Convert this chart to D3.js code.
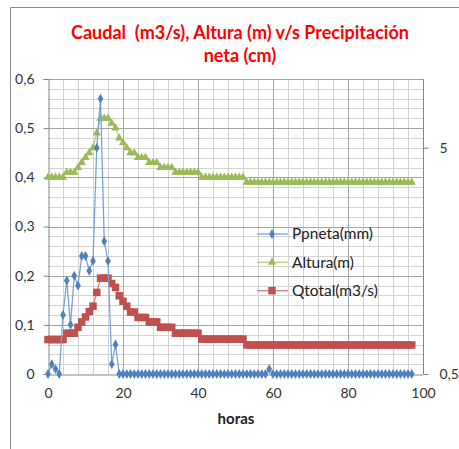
<!DOCTYPE html>
<html><head><meta charset="utf-8">
<script src="https://cdn.jsdelivr.net/npm/d3@7"></script>
<style>
body{margin:0;background:#fff}
svg{display:block}
text{font-family:Lato,'Open Sans',sans-serif;white-space:pre}
</style></head>
<body><svg id="c" width="459" height="449"></svg>
<script>
// ---- data ----
const hours = [0,1,2,3,4,5,6,7,8,9,10,11,12,13,14,15,16,17,18,19,20,21,22,23,24,25,26,27,28,29,
30,31,32,33,34,35,36,37,38,39,40,41,42,43,44,45,46,47,48,49,50,51,52,53,54,55,56,57,58,59,
60,61,62,63,64,65,66,67,68,69,70,71,72,73,74,75,76,77,78,79,80,81,82,83,84,85,86,87,88,89,
90,91,92,93,94,95,96,97];
const ppneta = [0,0.02,0.01,0,0.12,0.19,0.10,0.20,0.18,0.24,0.24,0.21,0.23,0.46,0.56,0.27,0.23,0.02,0.06,
0,0,0,0,0,0,0,0,0,0, 0,0,0,0,0,0,0,0,0,0, 0,0,0,0,0,0,0,0,0,0, 0,0,0,0,0,0,0,0,0,0,
0.01,
0,0,0,0,0,0,0,0,0,0, 0,0,0,0,0,0,0,0,0,0, 0,0,0,0,0,0,0,0,0,0, 0,0,0,0,0,0,0,0];
const altura = [0.40,0.40,0.40,0.40,0.40,0.41,0.41,0.41,0.42,0.43,0.44,0.45,0.46,0.49,0.52,0.52,0.52,
0.51,0.50,0.48,0.47,0.46,0.45,0.45,0.44,0.44,0.44,0.43,0.43,0.43,0.42,0.42,0.42,0.42,
0.41,0.41,0.41,0.41,0.41,0.41,0.41,
0.40,0.40,0.40,0.40,0.40,0.40,0.40,0.40,0.40,0.40,0.40,0.40,
0.39,0.39,0.39,0.39,0.39,0.39,0.39,0.39,0.39,0.39, 0.39,0.39,0.39,0.39,0.39,0.39,0.39,0.39,0.39,0.39,
0.39,0.39,0.39,0.39,0.39,0.39,0.39,0.39,0.39,0.39, 0.39,0.39,0.39,0.39,0.39,0.39,0.39,0.39,0.39,0.39,
0.39,0.39,0.39,0.39,0.39];
const qtotal = [0.070,0.070,0.070,0.070,0.070,0.083,0.083,0.083,0.095,0.106,0.116,0.127,0.138,0.166,
0.195,0.195,0.195,0.184,0.176,0.159,0.148,0.138,0.126,0.126,0.115,0.115,0.115,0.106,0.106,0.106,
0.095,0.095,0.095,0.095,0.083,0.083,0.083,0.083,0.083,0.083,0.083,
0.071,0.071,0.071,0.071,0.071,0.071,0.071,0.071,0.071,0.071,0.071,0.071,
0.059,0.059,0.059,0.059,0.059,0.059,0.059,0.059,0.059,0.059, 0.059,0.059,0.059,0.059,0.059,0.059,0.059,0.059,0.059,0.059,
0.059,0.059,0.059,0.059,0.059,0.059,0.059,0.059,0.059,0.059, 0.059,0.059,0.059,0.059,0.059,0.059,0.059,0.059,0.059,0.059,
0.059,0.059,0.059,0.059,0.059];
const seriesNames = ["Ppneta(mm)","Altura(m)","Qtotal(m3/s)"];
const xTickVals = [0,20,40,60,80,100];
const yTickVals = [0,0.1,0.2,0.3,0.4,0.5,0.6];
const rightTickVals = [0.5,5];
const titleLines = ["Caudal  (m3/s), Altura (m) v/s Precipitación","neta (cm)"];
const xTitle = "horas";

// ---- layout ----
const svg = d3.select("#c");
const L=48,R=423,T=79,B=374;
const x = d3.scaleLinear().domain([0,100]).range([L,R]);
const y = d3.scaleLinear().domain([0,0.6]).range([B,T]);
const yR = d3.scaleLog().domain([0.5,5]).range([B,147.7]);
const fmt = v => String(v).replace(".",",");

// outer border
svg.append("path").attr("d","M10.5,449 V7.5 H459").attr("fill","none").attr("stroke","#8c8c8c").attr("stroke-width",1);

// grid
const g = svg.append("g");
const minorY = d3.range(0,0.6001,0.02).filter(v=>Math.abs(Math.round(v*10)-v*10)>1e-6);
const minorX = d3.range(0,100.001,4).filter(v=>v%20!==0);
g.selectAll(".my").data(minorY).join("line")
  .attr("x1",L).attr("x2",R).attr("y1",d=>Math.round(y(d))+0.5).attr("y2",d=>Math.round(y(d))+0.5)
  .attr("stroke","#d4d4d4");
g.selectAll(".mx").data(minorX).join("line")
  .attr("y1",T).attr("y2",B).attr("x1",d=>Math.round(x(d))+0.5).attr("x2",d=>Math.round(x(d))+0.5)
  .attr("stroke","#d4d4d4");
g.selectAll(".Mx").data(xTickVals.filter(v=>v>0&&v<100)).join("line")
  .attr("y1",T).attr("y2",B).attr("x1",d=>Math.round(x(d))+0.5).attr("x2",d=>Math.round(x(d))+0.5)
  .attr("stroke","#a6a6a6");
g.selectAll(".My").data(yTickVals.filter(v=>v>0)).join("line")
  .attr("x1",L).attr("x2",R).attr("y1",d=>Math.round(y(d))+0.5).attr("y2",d=>Math.round(y(d))+0.5)
  .attr("stroke","#a6a6a6");

// axes
const axL = svg.append("g").attr("transform",`translate(${L+0.5},0)`)
  .call(d3.axisLeft(y).tickValues(yTickVals).tickSize(5).tickPadding(9).tickFormat(fmt));
const axB = svg.append("g").attr("transform",`translate(0,${Math.round(B)+0.5})`)
  .call(d3.axisBottom(x).tickValues(xTickVals).tickSize(0).tickPadding(14).tickFormat(fmt));
const axR = svg.append("g").attr("transform",`translate(${R+0.5},0)`)
  .call(d3.axisRight(yR).tickValues(rightTickVals).tickSize(5).tickPadding(11).tickFormat(fmt));
axR.select(".domain").remove();
svg.append("line").attr("x1",R+0.5).attr("x2",R+0.5).attr("y1",T).attr("y2",B).attr("stroke","#868686");
[axL,axB,axR].forEach(a=>{
  a.selectAll(".domain,.tick line").attr("stroke","#868686");
  a.selectAll("text").attr("font-size",14).attr("fill","#333").attr("font-family","Lato,'Open Sans',sans-serif");
});

// series
const colors = ["#4F81BD","#9BBB59","#C0504D"];
const lineColors = ["#7aa0d4","#b4cf7e","#d27a77"];
const datasets = [ppneta, altura, qtotal];
const line = d3.line().x((d,i)=>x(hours[i])).y(d=>y(d));
const symbols = [d3.symbolDiamond, d3.symbolTriangle, d3.symbolSquare];
const sizes = [28, 30, 56];
// draw order: Qtotal, Altura, Ppneta (Ppneta on top)
[2,1,0].forEach(k=>{
  svg.append("path").datum(datasets[k]).attr("d",line).attr("fill","none")
    .attr("stroke",lineColors[k]).attr("stroke-width",1.25);
  svg.append("g").selectAll("path").data(datasets[k]).join("path")
    .attr("transform",(d,i)=>`translate(${x(hours[i])},${y(d)})`)
    .attr("d",d3.symbol().type(symbols[k]).size(sizes[k]))
    .attr("fill",colors[k]);
});

// legend
const legY = [234,262.3,290.7];
const leg = svg.append("g");
seriesNames.forEach((n,k)=>{
  leg.append("line").attr("x1",257).attr("x2",288).attr("y1",legY[k]).attr("y2",legY[k])
    .attr("stroke",lineColors[k]).attr("stroke-width",1.25);
  leg.append("path").attr("transform",`translate(272,${legY[k]})`)
    .attr("d",d3.symbol().type(symbols[k]).size(sizes[k])).attr("fill",colors[k]);
  const tx = leg.append("text").attr("x",292).attr("y",legY[k]+5.2).attr("font-size",15).attr("fill","#222").text(n);
});
// fit legend text width to reference (Ppneta(mm) ≈ 81px)
const lt = leg.selectAll("text");
const lw = lt.nodes()[0].getComputedTextLength();
lt.attr("font-size",15*81/lw);

// x title
svg.append("text").attr("x",236).attr("y",424).attr("text-anchor","middle")
  .attr("font-size",15).attr("font-weight","bold").attr("fill","#222").text(xTitle);

// title
const t1 = svg.append("text").attr("x",240).attr("y",39).attr("text-anchor","middle")
  .attr("font-weight","bold").attr("fill","#FF0000").attr("font-size",16).text(titleLines[0]);
const w = t1.node().getComputedTextLength();
const fs = 16*338/w;
t1.attr("font-size",fs);
svg.append("text").attr("x",240).attr("y",61.5).attr("text-anchor","middle")
  .attr("font-weight","bold").attr("fill","#FF0000").attr("font-size",fs).text(titleLines[1]);
</script>
</body></html>
